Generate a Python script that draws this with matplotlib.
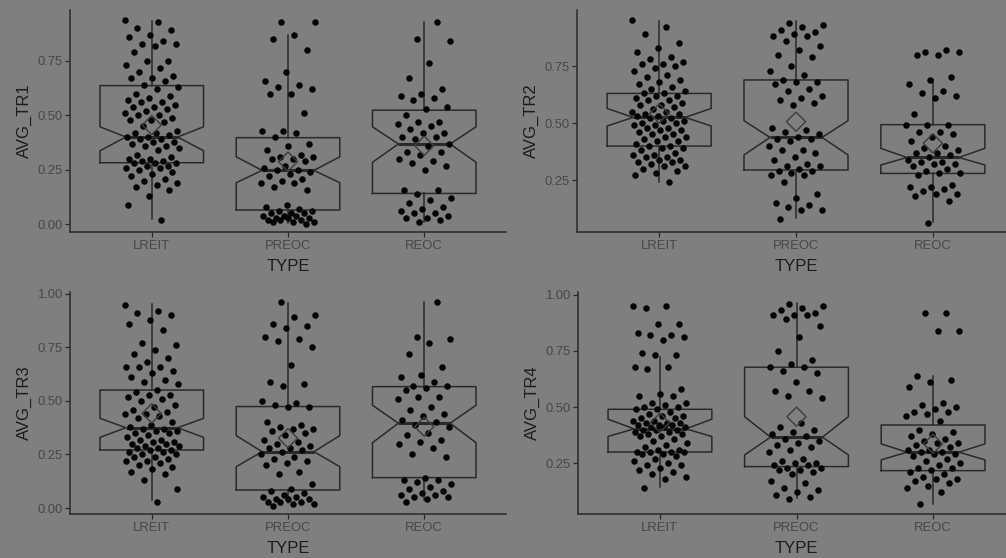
import matplotlib

matplotlib.use("Agg")
import matplotlib.pyplot as plt  # noqa: E402

plt.rcParams["font.family"] = ["Liberation Sans", "DejaVu Sans"]

BG = "#7f7f7f"
LINE = "#2a2a2a"
POINT = "#050505"
TICK_TXT = "#474747"
TITLE_TXT = "#1c1c1c"

categories = ["LREIT", "PREOC", "REOC"]
x_title = "TYPE"
y_titles = ["AVG_TR1", "AVG_TR2", "AVG_TR3", "AVG_TR4"]

tr1_lreit = [0.94, 0.93, 0.90, 0.89, 0.87, 0.86, 0.84, 0.83, 0.83, 0.82, 0.79, 0.75, 0.75, 0.73, 0.72,
             0.70, 0.68, 0.67, 0.67, 0.66, 0.64, 0.63, 0.62, 0.60, 0.59, 0.58, 0.57, 0.56, 0.56, 0.55,
             0.54, 0.54, 0.53, 0.52, 0.51, 0.50, 0.50, 0.49, 0.48, 0.48, 0.47, 0.45, 0.43, 0.42, 0.42,
             0.41, 0.40, 0.40, 0.39, 0.39, 0.38, 0.38, 0.37, 0.36, 0.36, 0.35, 0.34, 0.32, 0.31, 0.30,
             0.30, 0.29, 0.29, 0.28, 0.28, 0.28, 0.27, 0.27, 0.26, 0.26, 0.25, 0.24, 0.23, 0.22, 0.21,
             0.20, 0.19, 0.18, 0.17, 0.16, 0.13, 0.09, 0.02]
tr1_preoc = [0.93, 0.93, 0.87, 0.85, 0.80, 0.70, 0.66, 0.64, 0.63, 0.62, 0.60, 0.60, 0.51, 0.43, 0.43,
             0.42, 0.40, 0.37, 0.36, 0.34, 0.32, 0.31, 0.31, 0.30, 0.30, 0.29, 0.27, 0.26, 0.25, 0.25,
             0.24, 0.23, 0.22, 0.21, 0.20, 0.19, 0.19, 0.17, 0.16, 0.09, 0.08, 0.07, 0.06, 0.06, 0.05,
             0.05, 0.05, 0.04, 0.04, 0.04, 0.03, 0.03, 0.03, 0.02, 0.02, 0.02, 0.01, 0.01, 0.01, 0.00]
tr1_reoc = [0.93, 0.85, 0.84, 0.74, 0.67, 0.62, 0.60, 0.59, 0.58, 0.57, 0.54, 0.53, 0.50, 0.47, 0.47,
            0.46, 0.45, 0.44, 0.42, 0.42, 0.40, 0.40, 0.39, 0.37, 0.36, 0.33, 0.33, 0.32, 0.30, 0.29,
            0.28, 0.27, 0.25, 0.16, 0.16, 0.14, 0.12, 0.11, 0.10, 0.08, 0.07, 0.06, 0.05, 0.05, 0.04,
            0.03, 0.03, 0.02, 0.01]

tr2_lreit = [0.95, 0.92, 0.89, 0.85, 0.83, 0.81, 0.79, 0.78, 0.77, 0.76, 0.76, 0.75, 0.74, 0.73, 0.71,
             0.70, 0.69, 0.68, 0.67, 0.66, 0.65, 0.64, 0.63, 0.63, 0.62, 0.62, 0.61, 0.60, 0.60, 0.59,
             0.58, 0.58, 0.57, 0.56, 0.55, 0.55, 0.54, 0.54, 0.53, 0.53, 0.52, 0.52, 0.51, 0.51, 0.50,
             0.50, 0.49, 0.49, 0.48, 0.48, 0.47, 0.47, 0.46, 0.45, 0.45, 0.44, 0.44, 0.43, 0.42, 0.42,
             0.41, 0.40, 0.40, 0.39, 0.39, 0.38, 0.37, 0.36, 0.36, 0.35, 0.35, 0.34, 0.34, 0.33, 0.33,
             0.32, 0.31, 0.31, 0.30, 0.29, 0.28, 0.27, 0.24]
tr2_preoc = [0.94, 0.93, 0.92, 0.91, 0.90, 0.89, 0.88, 0.88, 0.86, 0.84, 0.82, 0.80, 0.79, 0.75, 0.73,
             0.71, 0.69, 0.68, 0.68, 0.67, 0.65, 0.64, 0.62, 0.61, 0.60, 0.59, 0.58, 0.48, 0.47, 0.46,
             0.45, 0.44, 0.43, 0.43, 0.42, 0.40, 0.38, 0.38, 0.37, 0.35, 0.34, 0.32, 0.31, 0.31, 0.30,
             0.29, 0.29, 0.28, 0.27, 0.27, 0.24, 0.19, 0.17, 0.15, 0.14, 0.13, 0.12, 0.12, 0.08]
tr2_reoc = [0.82, 0.81, 0.81, 0.80, 0.80, 0.70, 0.69, 0.67, 0.64, 0.63, 0.62, 0.61, 0.54, 0.49, 0.49,
            0.49, 0.46, 0.46, 0.45, 0.44, 0.42, 0.40, 0.39, 0.38, 0.37, 0.37, 0.36, 0.35, 0.34, 0.33,
            0.33, 0.32, 0.32, 0.31, 0.30, 0.29, 0.28, 0.28, 0.27, 0.23, 0.22, 0.22, 0.21, 0.20, 0.19,
            0.19, 0.18, 0.16, 0.06]

tr3_lreit = [0.95, 0.92, 0.91, 0.90, 0.88, 0.86, 0.83, 0.77, 0.76, 0.74, 0.72, 0.70, 0.68, 0.66, 0.66,
             0.66, 0.64, 0.63, 0.61, 0.60, 0.59, 0.58, 0.55, 0.54, 0.53, 0.53, 0.52, 0.51, 0.50, 0.48,
             0.47, 0.46, 0.45, 0.44, 0.44, 0.43, 0.42, 0.40, 0.39, 0.38, 0.37, 0.37, 0.36, 0.36, 0.35,
             0.35, 0.34, 0.33, 0.32, 0.32, 0.31, 0.31, 0.30, 0.30, 0.29, 0.29, 0.28, 0.28, 0.27, 0.27,
             0.26, 0.26, 0.25, 0.25, 0.24, 0.24, 0.23, 0.22, 0.22, 0.21, 0.20, 0.19, 0.18, 0.17, 0.16,
             0.13, 0.09, 0.03]
tr3_preoc = [0.96, 0.90, 0.89, 0.86, 0.85, 0.84, 0.80, 0.79, 0.78, 0.75, 0.67, 0.59, 0.58, 0.57, 0.50,
             0.49, 0.48, 0.47, 0.47, 0.40, 0.39, 0.38, 0.37, 0.37, 0.36, 0.35, 0.34, 0.32, 0.31, 0.30,
             0.29, 0.28, 0.28, 0.27, 0.26, 0.25, 0.24, 0.23, 0.22, 0.21, 0.20, 0.17, 0.16, 0.11, 0.09,
             0.08, 0.07, 0.06, 0.05, 0.05, 0.04, 0.04, 0.04, 0.03, 0.03, 0.03, 0.02, 0.02, 0.01]
tr3_reoc = [0.96, 0.80, 0.79, 0.77, 0.72, 0.66, 0.62, 0.61, 0.59, 0.57, 0.57, 0.56, 0.55, 0.52, 0.52,
            0.51, 0.47, 0.46, 0.44, 0.43, 0.41, 0.40, 0.39, 0.38, 0.35, 0.34, 0.32, 0.31, 0.30, 0.28,
            0.25, 0.24, 0.14, 0.13, 0.13, 0.12, 0.11, 0.10, 0.09, 0.08, 0.07, 0.06, 0.06, 0.05, 0.05,
            0.04, 0.03]

tr4_lreit = [0.95, 0.95, 0.94, 0.87, 0.87, 0.83, 0.82, 0.82, 0.81, 0.80, 0.74, 0.73, 0.73, 0.68, 0.68,
             0.67, 0.58, 0.56, 0.55, 0.55, 0.52, 0.52, 0.51, 0.50, 0.50, 0.49, 0.49, 0.48, 0.47, 0.46,
             0.46, 0.45, 0.45, 0.44, 0.44, 0.43, 0.43, 0.43, 0.42, 0.42, 0.42, 0.41, 0.41, 0.41, 0.40,
             0.40, 0.40, 0.39, 0.39, 0.38, 0.38, 0.37, 0.37, 0.36, 0.35, 0.34, 0.33, 0.32, 0.31, 0.31,
             0.30, 0.30, 0.30, 0.30, 0.29, 0.29, 0.28, 0.27, 0.26, 0.25, 0.24, 0.24, 0.23, 0.22, 0.21,
             0.20, 0.19, 0.18, 0.14]
tr4_preoc = [0.96, 0.95, 0.94, 0.93, 0.92, 0.91, 0.91, 0.91, 0.89, 0.86, 0.81, 0.75, 0.71, 0.69, 0.68,
             0.68, 0.66, 0.65, 0.61, 0.57, 0.57, 0.55, 0.54, 0.43, 0.41, 0.40, 0.39, 0.38, 0.37, 0.36,
             0.35, 0.34, 0.33, 0.32, 0.31, 0.30, 0.27, 0.26, 0.25, 0.25, 0.24, 0.24, 0.23, 0.23, 0.22,
             0.22, 0.21, 0.20, 0.17, 0.16, 0.14, 0.13, 0.12, 0.11, 0.10, 0.09]
tr4_reoc = [0.92, 0.92, 0.84, 0.84, 0.64, 0.62, 0.61, 0.59, 0.52, 0.51, 0.50, 0.49, 0.48, 0.48, 0.47,
            0.46, 0.44, 0.40, 0.39, 0.38, 0.37, 0.36, 0.35, 0.34, 0.34, 0.33, 0.32, 0.31, 0.31, 0.30,
            0.30, 0.29, 0.29, 0.28, 0.27, 0.26, 0.25, 0.24, 0.23, 0.23, 0.22, 0.21, 0.20, 0.19, 0.18,
            0.18, 0.17, 0.16, 0.15, 0.14, 0.12, 0.07]

# --- box summaries as drawn (LREIT, PREOC, REOC) --------------------------
tr1_q1 = [0.283, 0.066, 0.142]
tr1_med = [0.401, 0.248, 0.369]
tr1_q3 = [0.637, 0.398, 0.524]
tr1_notch_lo = [0.338, 0.191, 0.285]
tr1_notch_hi = [0.448, 0.310, 0.448]
tr1_whisk_lo = [0.024, 0.005, 0.010]
tr1_whisk_hi = [0.935, 0.870, 0.928]
tr1_mean = [0.456, 0.288, 0.361]

tr2_q1 = [0.399, 0.294, 0.279]
tr2_med = [0.525, 0.437, 0.349]
tr2_q3 = [0.630, 0.689, 0.493]
tr2_notch_lo = [0.487, 0.360, 0.316]
tr2_notch_hi = [0.564, 0.510, 0.389]
tr2_whisk_lo = [0.243, 0.082, 0.067]
tr2_whisk_hi = [0.949, 0.949, 0.692]
tr2_mean = [0.542, 0.506, 0.411]

tr3_q1 = [0.271, 0.084, 0.142]
tr3_med = [0.375, 0.263, 0.396]
tr3_q3 = [0.551, 0.474, 0.567]
tr3_notch_lo = [0.330, 0.193, 0.305]
tr3_notch_hi = [0.419, 0.338, 0.480]
tr3_whisk_lo = [0.037, 0.022, 0.037]
tr3_whisk_hi = [0.952, 0.956, 0.963]
tr3_mean = [0.442, 0.326, 0.380]

tr4_q1 = [0.300, 0.235, 0.217]
tr4_med = [0.403, 0.366, 0.299]
tr4_q3 = [0.490, 0.677, 0.420]
tr4_notch_lo = [0.369, 0.287, 0.265]
tr4_notch_hi = [0.446, 0.457, 0.336]
tr4_whisk_lo = [0.146, 0.094, 0.069]
tr4_whisk_hi = [0.724, 0.961, 0.640]
tr4_mean = [0.430, 0.457, 0.336]

panels = [
    ([tr1_lreit, tr1_preoc, tr1_reoc],
     (tr1_q1, tr1_med, tr1_q3, tr1_notch_lo, tr1_notch_hi, tr1_whisk_lo, tr1_whisk_hi, tr1_mean)),
    ([tr2_lreit, tr2_preoc, tr2_reoc],
     (tr2_q1, tr2_med, tr2_q3, tr2_notch_lo, tr2_notch_hi, tr2_whisk_lo, tr2_whisk_hi, tr2_mean)),
    ([tr3_lreit, tr3_preoc, tr3_reoc],
     (tr3_q1, tr3_med, tr3_q3, tr3_notch_lo, tr3_notch_hi, tr3_whisk_lo, tr3_whisk_hi, tr3_mean)),
    ([tr4_lreit, tr4_preoc, tr4_reoc],
     (tr4_q1, tr4_med, tr4_q3, tr4_notch_lo, tr4_notch_hi, tr4_whisk_lo, tr4_whisk_hi, tr4_mean)),
]

# layout in pixels: (left, top, right, bottom), y limits, y ticks
W, H = 1006, 558
layout = [
    ((70, 10, 506, 232), (-0.035, 0.984), [0.0, 0.25, 0.5, 0.75]),
    ((577, 10, 1015, 232), (0.022, 0.996), [0.25, 0.5, 0.75]),
    ((70, 292, 506, 514), (-0.028, 1.009), [0.0, 0.25, 0.5, 0.75, 1.0]),
    ((578, 292, 1015, 514), (0.024, 1.012), [0.25, 0.5, 0.75, 1.0]),
]

fig = plt.figure(figsize=(W / 100, H / 100), dpi=100)
fig.patch.set_facecolor(BG)

for (groups, stats), (box, ylim, yticks), ytitle in zip(panels, layout, y_titles):
    x0, y0, x1, y1 = box
    ax = fig.add_axes([x0 / W, 1 - y1 / H, (x1 - x0) / W, (y1 - y0) / H])
    ax.set_facecolor("none")

    q1, med, q3, nlo, nhi, wlo, whi, mean = stats
    bstats = [
        dict(q1=q1[i], med=med[i], q3=q3[i], cilo=nlo[i], cihi=nhi[i],
             whislo=wlo[i], whishi=whi[i], fliers=[])
        for i in range(len(categories))
    ]
    ax.bxp(bstats, positions=[1, 2, 3], widths=0.76, shownotches=True, showcaps=False,
           showfliers=False, boxprops=dict(color=LINE, lw=1.1),
           whiskerprops=dict(color=LINE, lw=1.1), medianprops=dict(color=LINE, lw=2.2),
           manage_ticks=False)

    # deterministic horizontal jitter (golden-ratio sequence), +-0.2 category units
    for i, vals in enumerate(groups):
        xs = [i + 1 + ((k * 0.6180339887 + 0.37 * i) % 1 - 0.5) * 0.4 for k in range(len(vals))]
        ax.scatter(xs, vals, s=22, color=POINT, linewidths=0, zorder=4)

    ax.scatter([1, 2, 3], mean, marker="D", s=95, facecolors="none", edgecolors="#3c3c3c",
               linewidths=1.0, zorder=5)

    ax.set_xlim(0.4, 3.6)
    ax.set_ylim(*ylim)
    ax.set_xticks([1, 2, 3])
    ax.set_xticklabels(categories)
    ax.set_yticks(yticks)
    ax.set_yticklabels([f"{t:.2f}" for t in yticks])
    for side in ("top", "right"):
        ax.spines[side].set_visible(False)
    for side in ("left", "bottom"):
        ax.spines[side].set_color(LINE)
        ax.spines[side].set_linewidth(1.1)
    ax.tick_params(colors=LINE, length=3.5, width=0.9, labelsize=9.4, labelcolor=TICK_TXT, pad=2)
    ax.set_xlabel(x_title, fontsize=12, color=TITLE_TXT, labelpad=5)
    ax.set_ylabel(ytitle, fontsize=12, color=TITLE_TXT, labelpad=4)

fig.savefig("out.png", dpi=100, facecolor=BG)
